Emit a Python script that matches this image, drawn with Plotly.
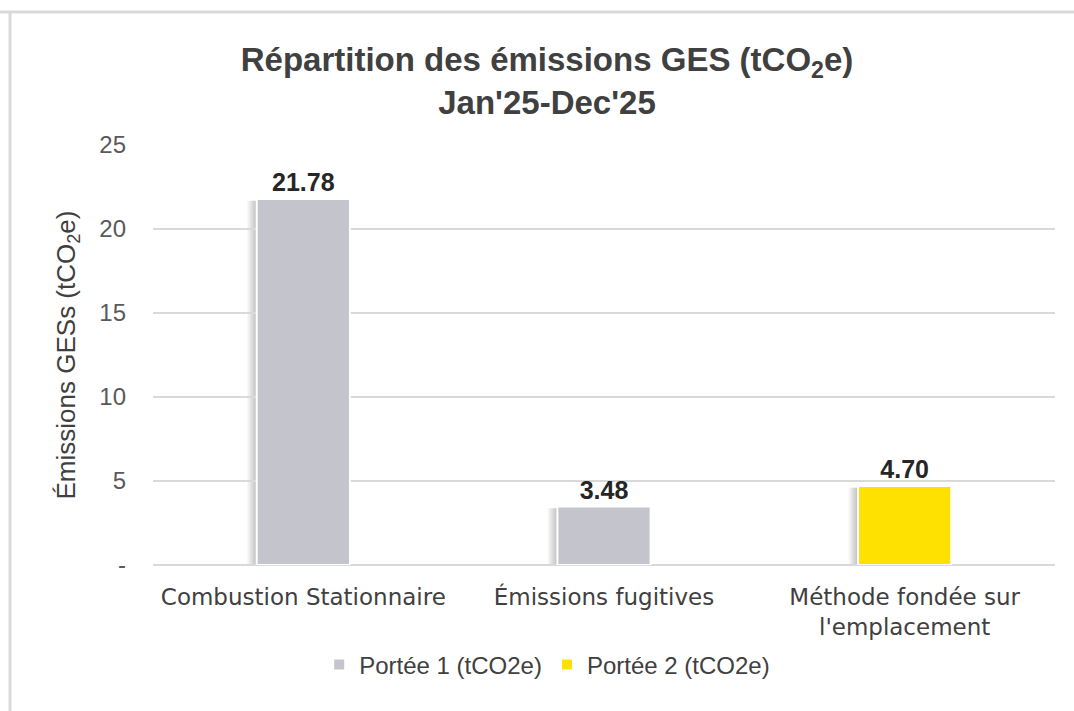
import plotly.graph_objects as go

categories = ["Combustion Stationnaire", "Émissions fugitives", "Méthode fondée sur<br>l'emplacement"]
portee1 = [21.78, 3.48, None]
portee2 = [None, None, 4.70]
series_names = ["Portée 1 (tCO2e)", "Portée 2 (tCO2e)"]
tick_vals = [0, 5, 10, 15, 20, 25]
tick_text = ["-", "5", "10", "15", "20", "25"]

BAR_W = 0.31
colors = ["#C4C4CC", "#FFE100"]

fig = go.Figure()
for name, vals, color in [(series_names[0], portee1, colors[0]), (series_names[1], portee2, colors[1])]:
    xs = [c for c, v in zip(categories, vals) if v is not None]
    ys = [v for v in vals if v is not None]
    fig.add_trace(go.Bar(
        x=xs, y=ys, name=name,
        marker=dict(color=color, line=dict(color="white", width=2)),
        width=BAR_W,
        text=[f"{v:.2f}" for v in ys],
        textposition="outside",
        textfont=dict(family="Liberation Sans, Arial", size=25, color="#262626", weight="bold"),
        cliponaxis=False,
    ))

# soft left shadow behind each bar
px = 1 / 300.0
for i in range(len(categories)):
    v = portee1[i] if portee1[i] is not None else portee2[i]
    left = i - BAR_W / 2
    for k in range(1, 9):
        fig.add_shape(type="rect", xref="x", yref="y",
                      x0=left - k * 1.2 * px, x1=left + 2 * px, y0=0, y1=v - 0.1,
                      fillcolor="rgba(0,0,0,0.03)", line=dict(width=0), layer="below")

fig.update_layout(
    width=1074, height=711,
    barmode="overlay",
    paper_bgcolor="white", plot_bgcolor="white",
    margin=dict(l=153, r=19, t=145, b=146),
    title=dict(
        text="Répartition des émissions GES (tCO<sub>2</sub>e)<br>Jan'25-Dec'25",
        x=547 / 1074, xanchor="center", y=1 - 71 / 711, yanchor="middle",
        font=dict(family="Liberation Sans, Arial", size=33, color="#404040", weight="bold"),
    ),
    xaxis=dict(
        type="category", categoryorder="array", categoryarray=categories,
        showgrid=False, showline=False, ticks="",
        tickfont=dict(family="DejaVu Sans", size=23, color="#404040"),
        ticklabelstandoff=16,
    ),
    yaxis=dict(
        range=[0, 25], tickvals=tick_vals, ticktext=tick_text,
        showgrid=True, gridcolor="#D9D9D9", gridwidth=2,
        zeroline=True, zerolinecolor="#D9D9D9", zerolinewidth=2,
        tickfont=dict(family="Liberation Sans, Arial", size=24, color="#595959"),
        ticklabelstandoff=26,
        title=dict(text="Émissions GESs (tCO<sub>2</sub>e)", standoff=16,
                   font=dict(family="Liberation Sans, Arial", size=26, color="#404040")),
    ),
    legend=dict(
        orientation="h", x=0.437, xanchor="center", y=-0.238, yanchor="middle",
        font=dict(family="Liberation Sans, Arial", size=24, color="#404040"),
        itemwidth=30,
    ),
)

# outer frame (top and left edges visible)
top_y = (711 - 146 - 12) / 420
fig.add_shape(type="line", xref="paper", yref="paper", x0=-153 / 902, x1=(1074 - 153) / 902, y0=top_y, y1=top_y,
              line=dict(color="#D9D9D9", width=3), layer="below")
fig.add_shape(type="line", xref="paper", yref="paper", x0=-143 / 902, x1=-143 / 902, y0=-146 / 420, y1=top_y,
              line=dict(color="#D9D9D9", width=3), layer="below")

fig.write_html("out.html", config={"displayModeBar": False},
               post_script="document.body.style.margin='0';document.body.style.overflow='hidden';")
